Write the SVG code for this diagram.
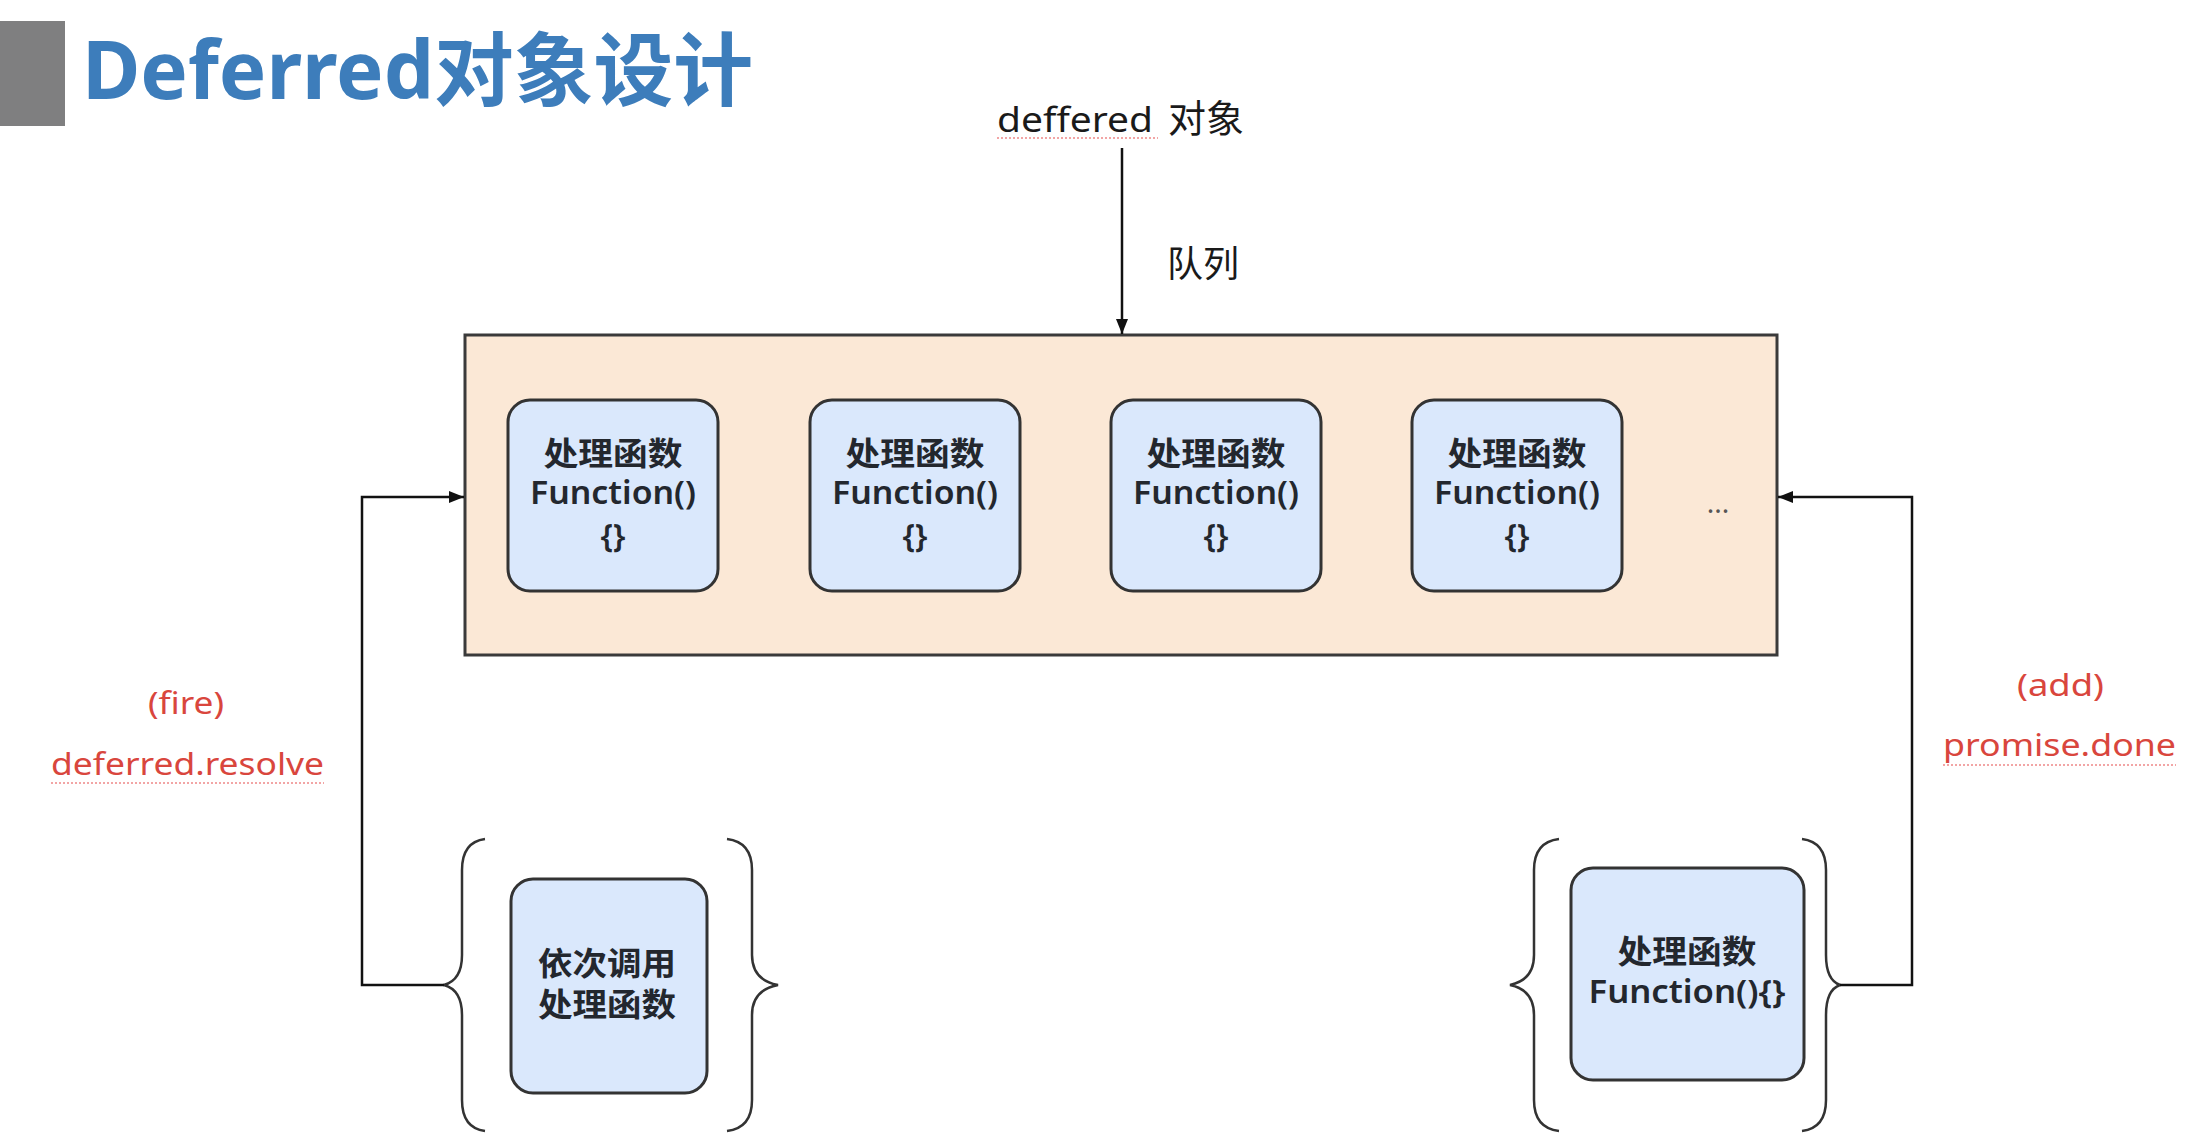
<svg xmlns="http://www.w3.org/2000/svg" width="2206" height="1146" viewBox="0 0 2206 1146">
<style>
text{font-family:"Noto Sans","Noto Sans CJK SC",sans-serif;}
.title{font-size:80px;font-weight:bold;fill:#3d7dbb;}
.lbl{font-size:36px;fill:#1a1a1a;}
.red{font-size:31px;fill:#d9463d;}
.fn{font-size:32px;font-weight:600;fill:#23272e;text-anchor:middle;}
.fbox{fill:#dae8fc;stroke:#333;stroke-width:3;}
.brace{fill:none;stroke:#333;stroke-width:2.5;}
.conn{fill:none;stroke:#111;stroke-width:2.5;}
.squig{stroke:#e88;stroke-width:1.5;stroke-dasharray:2 2;fill:none;}
</style>
<defs>
<marker id="arr" markerUnits="userSpaceOnUse" markerWidth="16" markerHeight="14" refX="15" refY="7" orient="auto">
<path d="M0,1 L15,7 L0,13 z" fill="#111"/>
</marker>
</defs>
<rect width="2206" height="1146" fill="#ffffff"/>
<g id="title">
<rect x="0" y="21" width="65" height="105" fill="#7f7f80"/>
<text class="title" x="82" y="99" textLength="671" lengthAdjust="spacingAndGlyphs">Deferred对象设计</text>
</g>
<g id="deferred-label">
<text class="lbl" y="132"><tspan x="997" font-size="34" textLength="156" lengthAdjust="spacingAndGlyphs">deffered</tspan><tspan x="1158" font-size="38"> 对象</tspan></text>
<line class="squig" x1="997" y1="138" x2="1158" y2="138"/>
</g>
<g id="queue-label">
<text class="lbl" x="1167" y="277" font-size="38">队列</text>
</g>
<g id="queue">
<rect x="465" y="335" width="1312" height="320" fill="#fbe8d6" stroke="#3a3a3a" stroke-width="3"/>
<text x="1718" y="513" font-size="28" fill="#555" text-anchor="middle" font-family="Noto Sans, sans-serif">...</text>
</g>
<g id="fn1">
<rect class="fbox" x="508" y="400" width="210" height="191" rx="22"/>
<text class="fn" x="613" y="465" textLength="139" lengthAdjust="spacingAndGlyphs">处理函数</text>
<text class="fn" x="613" y="504" textLength="166" lengthAdjust="spacingAndGlyphs">Function()</text>
<text class="fn" x="613" y="547">{}</text>
</g>
<g id="fn2">
<rect class="fbox" x="810" y="400" width="210" height="191" rx="22"/>
<text class="fn" x="915" y="465" textLength="139" lengthAdjust="spacingAndGlyphs">处理函数</text>
<text class="fn" x="915" y="504" textLength="166" lengthAdjust="spacingAndGlyphs">Function()</text>
<text class="fn" x="915" y="547">{}</text>
</g>
<g id="fn3">
<rect class="fbox" x="1111" y="400" width="210" height="191" rx="22"/>
<text class="fn" x="1216" y="465" textLength="139" lengthAdjust="spacingAndGlyphs">处理函数</text>
<text class="fn" x="1216" y="504" textLength="166" lengthAdjust="spacingAndGlyphs">Function()</text>
<text class="fn" x="1216" y="547">{}</text>
</g>
<g id="fn4">
<rect class="fbox" x="1412" y="400" width="210" height="191" rx="22"/>
<text class="fn" x="1517" y="465" textLength="139" lengthAdjust="spacingAndGlyphs">处理函数</text>
<text class="fn" x="1517" y="504" textLength="166" lengthAdjust="spacingAndGlyphs">Function()</text>
<text class="fn" x="1517" y="547">{}</text>
</g>
<g id="fire-label">
<text class="red" x="148" y="714" textLength="76" lengthAdjust="spacingAndGlyphs">(fire)</text>
<text class="red" x="51" y="775" textLength="273" lengthAdjust="spacingAndGlyphs">deferred.resolve</text>
<line class="squig" x1="51" y1="783" x2="324" y2="783"/>
</g>
<g id="add-label">
<text class="red" x="2017" y="696" textLength="87" lengthAdjust="spacingAndGlyphs">(add)</text>
<text class="red" x="1943" y="756" textLength="233" lengthAdjust="spacingAndGlyphs">promise.done</text>
<line class="squig" x1="1943" y1="765" x2="2176" y2="765"/>
</g>
<g id="invoke">
<path class="brace" d="M485 839 Q462 842 462 870 V955 Q462 980 444 985 Q462 990 462 1015 V1100 Q462 1128 485 1131"/>
<path class="brace" d="M727 839 Q752 842 752 870 V955 Q752 980 778 985 Q752 990 752 1015 V1100 Q752 1128 727 1131"/>
<rect class="fbox" x="511" y="879" width="196" height="214" rx="22"/>
<text class="fn" x="607" y="975" textLength="138" lengthAdjust="spacingAndGlyphs">依次调用</text>
<text class="fn" x="607" y="1016" textLength="138" lengthAdjust="spacingAndGlyphs">处理函数</text>
</g>
<g id="add-fn">
<path class="brace" d="M1559 839 Q1534 842 1534 870 V955 Q1534 980 1510 985 Q1534 990 1534 1015 V1100 Q1534 1128 1559 1131"/>
<path class="brace" d="M1802 839 Q1826 842 1826 870 V955 Q1826 980 1840 985 Q1826 990 1826 1015 V1100 Q1826 1128 1802 1131"/>
<rect class="fbox" x="1571" y="868" width="233" height="212" rx="22"/>
<text class="fn" x="1687" y="963" textLength="139" lengthAdjust="spacingAndGlyphs">处理函数</text>
<text class="fn" x="1687" y="1003" textLength="197" lengthAdjust="spacingAndGlyphs">Function(){}</text>
</g>
<g id="connectors">
<path class="conn" d="M1122 148 V334" marker-end="url(#arr)"/>
<path class="conn" d="M444 985 H362 V497 H464" marker-end="url(#arr)"/>
<path class="conn" d="M1840 985 H1912 V497 H1778" marker-end="url(#arr)"/>
</g>
</svg>
